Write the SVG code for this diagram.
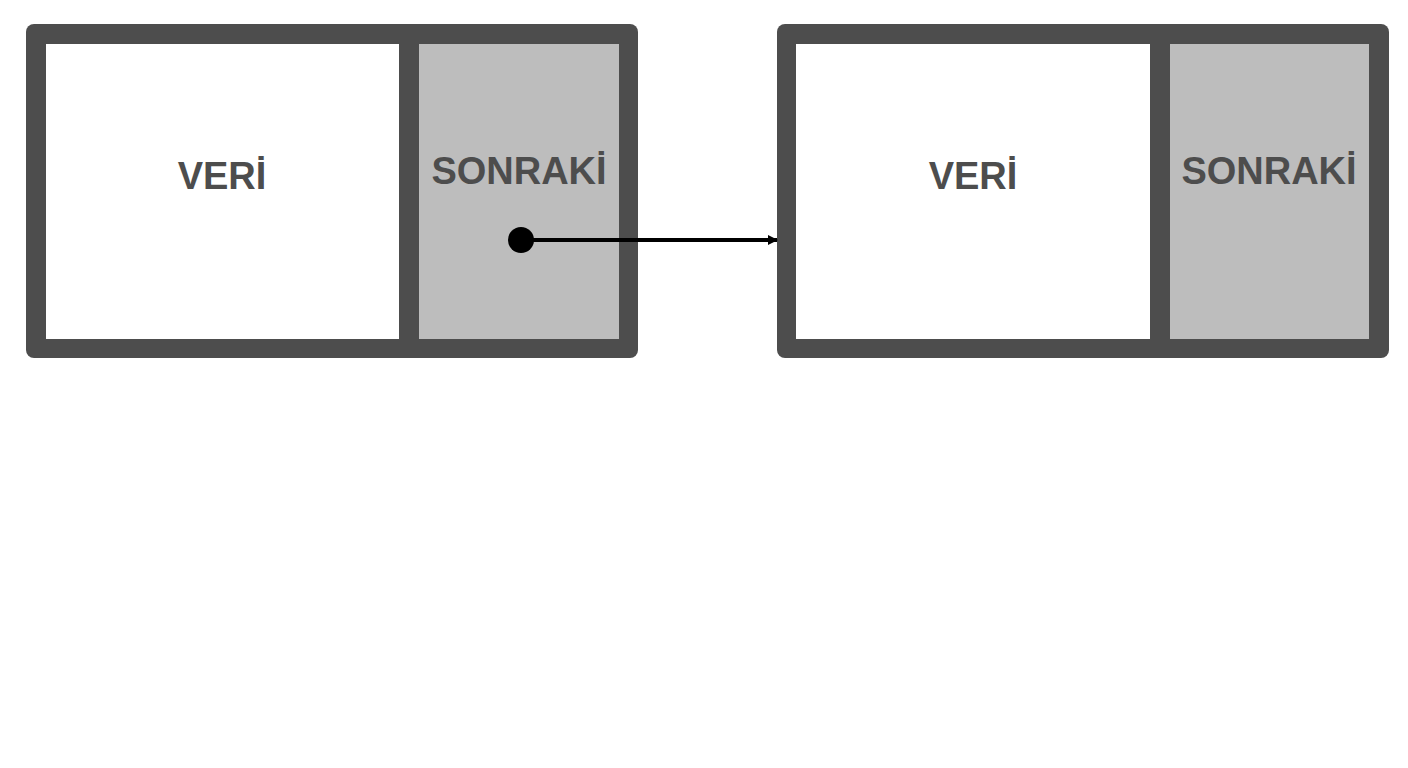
<svg xmlns="http://www.w3.org/2000/svg" width="1408" height="768" viewBox="0 0 1408 768">
<defs>
<style>
.frame{fill:#4d4d4d}
.data{fill:#ffffff}
.next{fill:#bdbdbd}
.lbl{font-family:"Liberation Sans",Arial,sans-serif;font-weight:bold;font-size:38px;fill:#4d4d4d;text-anchor:middle}
</style>
<marker id="ah" markerWidth="10" markerHeight="10" refX="9" refY="5" orient="auto" markerUnits="userSpaceOnUse" viewBox="0 0 10 10">
<path d="M0,0 L10,5 L0,10 z" fill="#000"/>
</marker>
</defs>
<rect width="1408" height="768" fill="#ffffff"/>
<g id="node1">
<rect class="frame" x="26" y="24" width="612" height="334" rx="8"/>
<rect class="data" x="46" y="44" width="353" height="295"/>
<rect class="next" x="419" y="44" width="200" height="295"/>
<text class="lbl" x="222" y="189">VERİ</text>
<text class="lbl" x="519" y="184">SONRAKİ</text>
</g>
<g id="node2">
<rect class="frame" x="777" y="24" width="612" height="334" rx="8"/>
<rect class="data" x="796" y="44" width="354" height="295"/>
<rect class="next" x="1170" y="44" width="199" height="295"/>
<text class="lbl" x="973" y="189">VERİ</text>
<text class="lbl" x="1269" y="184">SONRAKİ</text>
</g>
<g id="connectors">
<circle cx="521" cy="240" r="13" fill="#000"/>
<line x1="521" y1="240" x2="777" y2="240" stroke="#000" stroke-width="4" marker-end="url(#ah)"/>
</g>
</svg>
